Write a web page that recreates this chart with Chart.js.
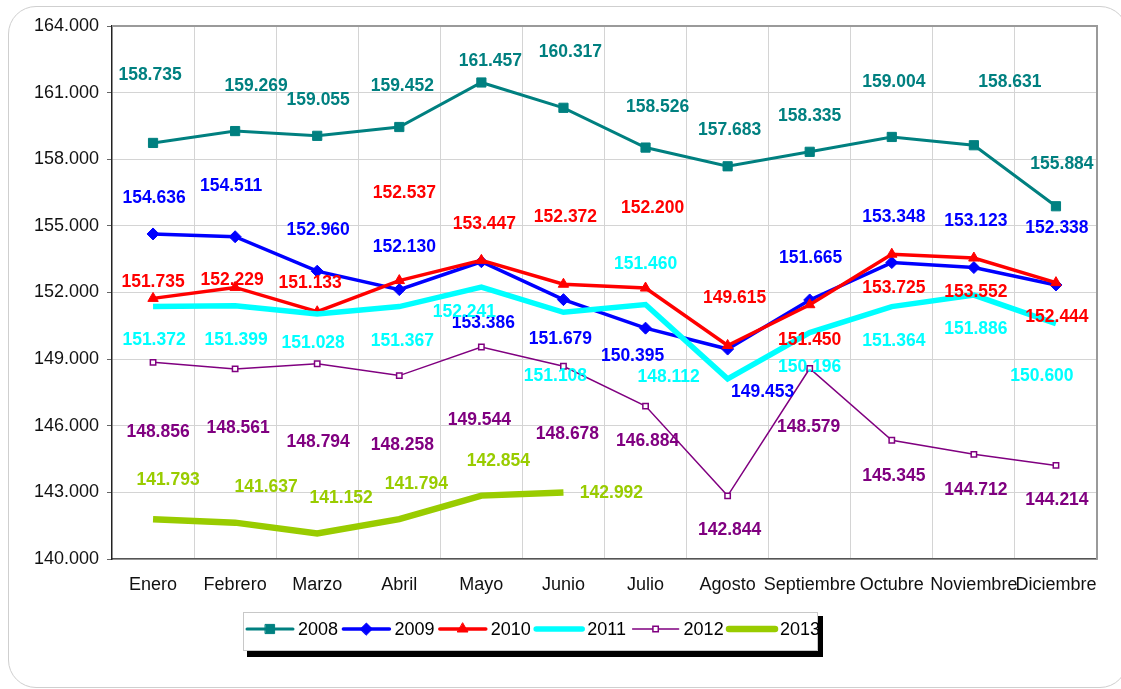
<!DOCTYPE html>
<html>
<head>
<meta charset="utf-8">
<script src="https://cdn.jsdelivr.net/npm/chart.js@4.4.0/dist/chart.umd.min.js"></script>
<style>
    html, body { margin: 0; padding: 0; background: #fff; }
    #wrap { position: relative; width: 1121px; height: 689px; overflow: hidden; }
    #frame {
        position: absolute; left: 8px; top: 6px; width: 1120px; height: 682px;
        border: 1.5px solid #cfcfcf; border-radius: 28px; box-sizing: border-box;
    }
    #chart { position: absolute; left: 0; top: 0; }
</style>
</head>
<body>
<div id="wrap">
    <div id="frame"></div>
    <canvas id="chart" width="1121" height="689"></canvas>
</div>
<script>
const months = ['Enero', 'Febrero', 'Marzo', 'Abril', 'Mayo', 'Junio', 'Julio', 'Agosto', 'Septiembre', 'Octubre', 'Noviembre', 'Diciembre'];
const years = ['2008', '2009', '2010', '2011', '2012', '2013'];

const v2008 = [158735, 159269, 159055, 159452, 161457, 160317, 158526, 157683, 158335, 159004, 158631, 155884];
const v2009 = [154636, 154511, 152960, 152130, 153386, 151679, 150395, 149453, 151665, 153348, 153123, 152338];
const v2010 = [151735, 152229, 151133, 152537, 153447, 152372, 152200, 149615, 151450, 153725, 153552, 152444];
const v2011 = [151372, 151399, 151028, 151367, 152241, 151108, 151460, 148112, 150196, 151364, 151886, 150600];
const v2012 = [148856, 148561, 148794, 148258, 149544, 148678, 146884, 142844, 148579, 145345, 144712, 144214];
const v2013 = [141793, 141637, 141152, 141794, 142854, 142992];

const yMin = 140000;
const yMax = 164000;
const yStep = 3000;

// where each value label sits relative to its point (px)
const labelOffsets = [
    [[-3, -68], [21, -45], [1, -36], [3, -41], [9, -21], [7, -56], [12, -40], [2, -36], [0, -36], [2, -55], [36, -63], [6, -42]],
    [[1, -36], [-4, -51], [1, -41], [5, -42], [2, 61], [-3, 40], [-13, 28], [35, 43], [1, -42], [2, -45], [2, -46], [1, -57]],
    [[0, -16], [-3, -7], [-7, -29], [5, -87], [3, -36], [2, -67], [7, -80], [7, -47], [0, 35], [2, 34], [2, 34], [1, 35]],
    [[1, 34], [1, 34], [-4, 29], [3, 35], [-17, 25], [-8, 64], [0, -40], [-59, -2], [0, 35], [2, 35], [2, 34], [-14, 53]],
    [[5, 70], [3, 59], [1, 78], [3, 70], [-2, 73], [4, 68], [2, 35], [2, 34], [-1, 59], [2, 36], [2, 36], [1, 35]],
    [[15, -39], [31, -35], [24, -35], [17, -35], [17, -34], [48, 1]]
];

const FONT = "'Liberation Sans', Arial, sans-serif";

function fmt(v) {
    return Math.round(v).toString().replace(/\B(?=(\d{3})+(?!\d))/g, '.');
}

const series = [
    { data: v2008, color: '#008080', width: 3, style: 'rect', radius: 6.5, fill: '#008080' },
    { data: v2009, color: '#0000FF', width: 3.5, style: 'rectRot', radius: 6, fill: '#0000FF' },
    { data: v2010, color: '#FF0000', width: 3.5, style: 'triangle', radius: 6, fill: '#FF0000' },
    { data: v2011, color: '#00FFFF', width: 5.5, style: false, radius: 0, fill: '#00FFFF' },
    { data: v2012, color: '#800080', width: 1.5, style: 'rect', radius: 3.8, fill: '#FFFFFF' },
    { data: v2013, color: '#99CC00', width: 6.5, style: false, radius: 0, fill: '#99CC00' }
];

const plotFrame = {
    id: 'plotFrame',
    beforeDatasetsDraw(chart) {
        const { ctx, chartArea: a } = chart;
        ctx.save();
        ctx.strokeStyle = '#9a9a9a';
        ctx.lineWidth = 2;
        ctx.beginPath();
        ctx.moveTo(a.left, a.top);
        ctx.lineTo(a.right, a.top);
        ctx.lineTo(a.right, a.bottom);
        ctx.stroke();
        ctx.restore();
    }
};

const valueLabels = {
    id: 'valueLabels',
    afterDatasetsDraw(chart) {
        const ctx = chart.ctx;
        ctx.save();
        ctx.font = 'bold 17.5px ' + FONT;
        ctx.textAlign = 'center';
        ctx.textBaseline = 'middle';
        chart.data.datasets.forEach((ds, i) => {
            const meta = chart.getDatasetMeta(i);
            ctx.fillStyle = series[i].color;
            meta.data.forEach((pt, j) => {
                const off = labelOffsets[i][j];
                ctx.fillText(fmt(ds.data[j]), pt.x + off[0], pt.y + off[1]);
            });
        });
        ctx.restore();
    }
};

const boxLegend = {
    id: 'boxLegend',
    afterDraw(chart) {
        const ctx = chart.ctx;
        const bx = 243, by = 612, bw = 574, bh = 38;
        ctx.save();
        ctx.fillStyle = '#000';
        ctx.fillRect(bx + 4, by + 4, bw + 2, bh + 3);
        ctx.fillStyle = '#fff';
        ctx.fillRect(bx, by, bw, bh);
        ctx.strokeStyle = '#c8c8c8';
        ctx.lineWidth = 1;
        ctx.strokeRect(bx + 0.5, by + 0.5, bw, bh);

        const cy = 629;
        series.forEach((s, i) => {
            const x0 = 247 + i * 96.4;
            ctx.strokeStyle = s.color;
            ctx.lineWidth = s.width;
            ctx.lineCap = 'round';
            ctx.beginPath();
            ctx.moveTo(x0, cy);
            ctx.lineTo(x0 + 46, cy);
            ctx.stroke();
            if (s.style) {
                ctx.fillStyle = s.fill;
                ctx.strokeStyle = s.color;
                ctx.lineWidth = s.style === 'rect' && s.fill === '#FFFFFF' ? 1.5 : 1;
                Chart.helpers.drawPoint(ctx, { pointStyle: s.style, radius: s.radius, rotation: 0, borderWidth: ctx.lineWidth }, x0 + 23, cy);
            }
            ctx.fillStyle = '#000';
            ctx.font = '18px ' + FONT;
            ctx.textAlign = 'left';
            ctx.textBaseline = 'middle';
            ctx.fillText(years[i], x0 + 51, cy + 1);
        });
        ctx.restore();
    }
};

new Chart(document.getElementById('chart').getContext('2d'), {
    type: 'line',
    data: {
        labels: months,
        datasets: series.map((s, i) => ({
            label: years[i],
            data: s.data,
            borderColor: s.color,
            backgroundColor: s.fill,
            borderWidth: s.width,
            pointStyle: s.style || 'circle',
            pointRadius: s.radius,
            pointBorderWidth: s.fill === '#FFFFFF' ? 1.5 : 1,
            pointBorderColor: s.color,
            pointBackgroundColor: s.fill,
            tension: 0,
            fill: false,
            order: series.length - i
        }))
    },
    options: {
        responsive: false,
        animation: false,
        layout: { padding: { top: 26, right: 24, left: 0, bottom: 0 } },
        scales: {
            x: {
                offset: true,
                grid: { offset: true, color: '#d4d4d4', lineWidth: 1, drawTicks: false },
                border: { color: '#555', width: 1.5 },
                ticks: { color: '#111', font: { family: FONT, size: 18 }, padding: 15, maxRotation: 0, autoSkip: false },
                afterFit(scale) { scale.height = 130; }
            },
            y: {
                min: yMin,
                max: yMax,
                grid: { color: '#d4d4d4', lineWidth: 1, tickLength: 5, tickColor: '#666' },
                border: { color: '#222', width: 1.5 },
                ticks: {
                    stepSize: yStep,
                    color: '#111',
                    font: { family: FONT, size: 18 },
                    padding: 8,
                    callback: v => fmt(v)
                },
                afterFit(scale) { scale.width = 112; }
            }
        },
        plugins: {
            legend: { display: false },
            tooltip: { enabled: false },
            title: { display: false }
        }
    },
    plugins: [plotFrame, valueLabels, boxLegend]
});
</script>
</body>
</html>
